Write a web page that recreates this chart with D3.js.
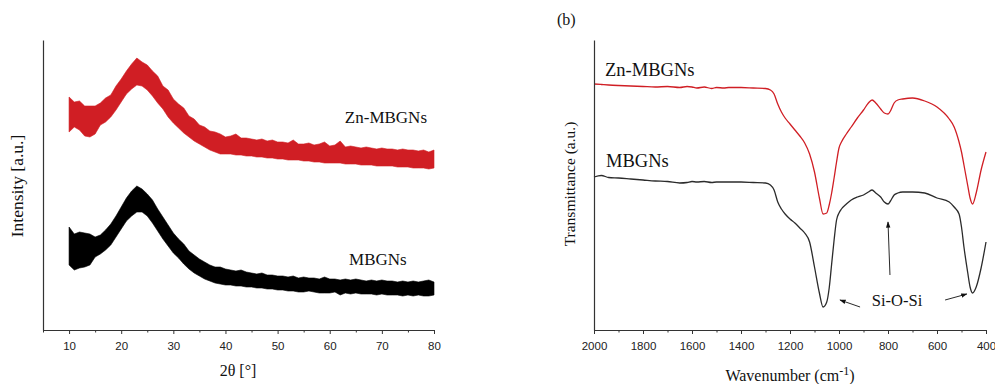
<!DOCTYPE html>
<html>
<head>
<meta charset="utf-8">
<script src="https://cdn.jsdelivr.net/npm/d3@7"></script>
<style>
  body { margin: 0; background: #fff; }
  svg { display: block; }
  .tick text { font-family: "Liberation Sans", Arial, sans-serif; font-size: 11.5px; fill: #222; }
  .tick line { stroke: #333; }
  .domain { stroke: #333; stroke-width: 1.2px; }
  .lbl { font-family: "Liberation Serif", "Times New Roman", serif; fill: #111; }
</style>
</head>
<body>
<svg id="chart" width="995" height="384"></svg>
<script>
// XRD (a): 2theta grid and noise envelope of each trace (a.u.)
const xrdAngle = [10,11,12,13,14,15,16,17,18,19,20,21,22,23,24,25,26,27,28,29,30,31,32,33,34,35,36,37,38,39,
  40,41,42,43,44,45,46,47,48,49,50,51,52,53,54,55,56,57,58,59,60,61,62,63,64,65,66,67,68,69,70,71,72,73,74,75,76,77,78,79,80];
const znXrdUpper = [233,228,229,224,224,224,227,232,235,244, 251,259,266,272,268,265,259,254,244,240,
  231,226,222,214,211,205,203,199,198,196, 193,194,196,192,192,191,190,191,189,190,
  188,188,187,190,186,186,187,185,186,188, 184,185,189,183,184,183,182,183,182,181,
  182,181,181,180,181,180,180,179,180,178, 180];
const znXrdLower = [198,203,200,194,193,196,205,208,213,220, 228,236,241,245,244,240,234,227,221,213,
  207,202,197,193,189,186,183,180,178,176, 176,176,175,175,174,174,173,173,172,172,
  171,171,170,170,170,169,169,168,168,167, 167,167,167,166,166,166,165,165,165,164,
  164,164,164,163,163,163,162,162,162,161, 162];
const mbXrdUpper = [103,96,98,97,96,93,95,100,106,114, 123,132,139,144,141,136,130,121,113,105,
  97,91,86,79,75,71,68,65,63,63, 61,60,59,60,58,57,56,57,55,55,
  54,54,53,54,52,53,52,52,51,53, 51,51,50,51,50,51,50,49,50,49,
  50,49,49,48,49,48,49,48,49,50, 48];
const mbXrdLower = [65,60,62,63,65,73,76,80,85,93, 101,109,114,118,118,114,107,99,91,84,
  77,72,66,61,57,54,51,49,47,46, 45,45,44,44,43,43,42,42,41,41,
  40,40,39,39,38,38,39,38,37,37, 37,38,35,37,36,37,36,36,36,35,
  36,35,35,35,34,35,34,35,34,34, 35];
const xrdMajorTicks = [10,20,30,40,50,60,70,80];
const xrdMinorTicks = [5,15,25,35,45,55,65,75];

// FTIR (b): wavenumber grid and transmittance (a.u.)
const wavenumber = [2000,1970,1940,1900,1850,1800,1750,1700,1650,1620,1600,1580,1550,1520,1500,1470,1450,1400,1350,1300,
  1280,1265,1250,1235,1220,1200,1180,1160,1140,1120,1100,1080,1065,1050,1040,1030,1020,1010,1000,990,
  970,950,925,900,880,865,850,830,815,800,790,775,760,740,700,650,600,550,530,510,
  500,490,475,465,455,440,420,400];
const znFtir = [246,245.5,245,244.5,244,243.5,243,243.5,242.5,243.5,243,242,243,241.5,242.5,242,242.5,242.5,242,241.5,
  240,236,226,218,212,206,200,194,187,176,158,132,116,117,125,137,152,168,182,188,
  196,203,212,220,227,230,227,221,217,216,219,227,230,231,232,229,223,211,203,188,
  178,165,145,132,126,137,160,178];
const mbFtir = [153,154.5,152.5,152,151,150,149,148.5,147,147.5,148.5,148,148.5,147.5,148,148,148,148,147.5,147,
  145,140,128,121,116,111,107,102,97,88,63,37,23,28,42,66,90,110,117,121,
  126,130,133,135,138,140,137,133,128,126,129,135,137,138,138,137,132,128,123,116,
  103,83,58,43,37,43,62,88];
const ftirMajorTicks = [2000,1800,1600,1400,1200,1000,800,600,400];
const ftirMinorTicks = [1900,1700,1500,1300,1100,900,700,500];

const RED = "#d01e24";
const svg = d3.select("#chart");

function drawAxes(g, x, y, majors, minors) {
  const base = y.range()[0];
  g.append("g")
    .attr("transform", "translate(0," + base + ")")
    .call(d3.axisBottom(x).tickValues(minors).tickSize(2.5).tickSizeOuter(0).tickFormat(""))
    .call(s => s.select(".domain").remove());
  g.append("g")
    .attr("transform", "translate(0," + base + ")")
    .call(d3.axisBottom(x).tickValues(majors).tickSize(4).tickSizeOuter(0).tickPadding(8).tickFormat(d3.format("d")));
  g.append("g")
    .attr("transform", "translate(" + x.range()[0] + ",0)")
    .call(d3.axisLeft(y).tickValues([]).tickSizeOuter(0));
}

// ---- panel (a): XRD ----
const xa = d3.scaleLinear().domain([5, 80]).range([43, 434]);
const ya = d3.scaleLinear().domain([0, 290]).range([330, 40]);
const ga = svg.append("g");

const band = (upper, lower) => d3.area()
  .x((d, i) => xa(xrdAngle[i]))
  .y0((d, i) => ya(lower[i]))
  .y1((d, i) => ya(upper[i]))(xrdAngle);

ga.append("path").attr("d", band(znXrdUpper, znXrdLower))
  .attr("fill", RED).attr("stroke", RED).attr("stroke-width", 0.6);
ga.append("path").attr("d", band(mbXrdUpper, mbXrdLower))
  .attr("fill", "#000").attr("stroke", "#000").attr("stroke-width", 0.6);

drawAxes(ga, xa, ya, xrdMajorTicks, xrdMinorTicks);

ga.append("text").attr("class", "lbl").attr("x", xa(62.9)).attr("y", ya(207))
  .style("font-size", "17px").text("Zn-MBGNs");
ga.append("text").attr("class", "lbl").attr("x", xa(63.7)).attr("y", ya(65))
  .style("font-size", "17px").text("MBGNs");
ga.append("text").attr("class", "lbl").attr("text-anchor", "middle")
  .attr("x", 238).attr("y", 376).style("font-size", "16px").text("2θ [°]");
ga.append("text").attr("class", "lbl").attr("text-anchor", "middle")
  .attr("transform", "translate(23,186) rotate(-90)").style("font-size", "17.5px").text("Intensity [a.u.]");

// ---- panel (b): FTIR ----
const xb = d3.scaleLinear().domain([2000, 400]).range([594, 986]);
const yb = d3.scaleLinear().domain([0, 290]).range([330, 40]);
const gb = svg.append("g");

const spectrum = vals => d3.line()
  .x((d, i) => xb(wavenumber[i]))
  .y((d, i) => yb(vals[i]))
  .curve(d3.curveMonotoneX)(wavenumber);

gb.append("path").attr("d", spectrum(znFtir)).attr("fill", "none").attr("stroke", RED).attr("stroke-width", 1.3);
gb.append("path").attr("d", spectrum(mbFtir)).attr("fill", "none").attr("stroke", "#2b2b2b").attr("stroke-width", 1.3);

drawAxes(gb, xb, yb, ftirMajorTicks, ftirMinorTicks);

svg.append("defs").append("marker")
  .attr("id", "head").attr("viewBox", "0 0 10 10").attr("refX", 9).attr("refY", 5)
  .attr("markerWidth", 7).attr("markerHeight", 7).attr("orient", "auto-start-reverse")
  .append("path").attr("d", "M0,1.5 L10,5 L0,8.5 Z").attr("fill", "#111");

const arrows = [
  { from: [792, 55], to: [800, 108] },
  { from: [914, 23], to: [996, 30] },
  { from: [567, 30], to: [478, 36] }
];
gb.selectAll(".arrow").data(arrows).enter().append("line")
  .attr("class", "arrow")
  .attr("x1", d => xb(d.from[0])).attr("y1", d => yb(d.from[1]))
  .attr("x2", d => xb(d.to[0])).attr("y2", d => yb(d.to[1]))
  .attr("stroke", "#111").attr("stroke-width", 0.9).attr("marker-end", "url(#head)");

gb.append("text").attr("class", "lbl").attr("text-anchor", "middle")
  .attr("x", xb(763)).attr("y", yb(24)).style("font-size", "16.5px").text("Si-O-Si");
gb.append("text").attr("class", "lbl").attr("x", xb(1955)).attr("y", yb(254))
  .style("font-size", "18.5px").text("Zn-MBGNs");
gb.append("text").attr("class", "lbl").attr("x", xb(1951)).attr("y", yb(163))
  .style("font-size", "18.5px").text("MBGNs");
gb.append("text").attr("class", "lbl").attr("x", 557).attr("y", 25)
  .style("font-size", "16px").text("(b)");
gb.append("text").attr("class", "lbl").attr("text-anchor", "middle")
  .attr("transform", "translate(575,184) rotate(-90)").style("font-size", "15.5px").text("Transmittance (a.u.)");

const wt = gb.append("text").attr("class", "lbl").attr("text-anchor", "middle")
  .attr("x", 790).attr("y", 381).style("font-size", "16px");
wt.append("tspan").text("Wavenumber (cm");
wt.append("tspan").attr("dy", -6).style("font-size", "12px").text("-1");
wt.append("tspan").attr("dy", 6).text(")");
</script>
</body>
</html>
